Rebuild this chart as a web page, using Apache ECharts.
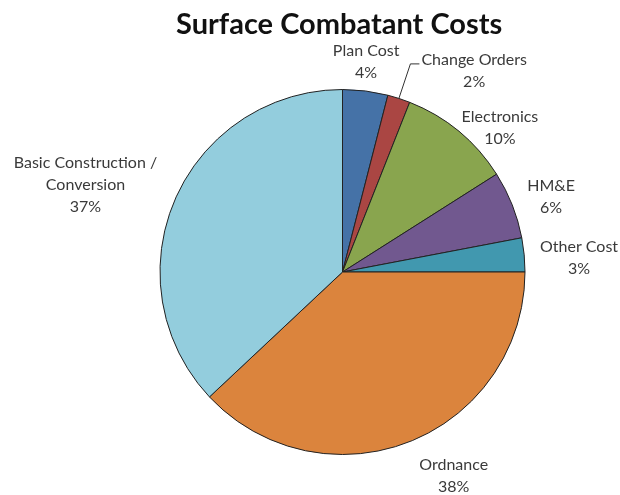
<!DOCTYPE html>
<html>
<head>
<meta charset="utf-8">
<script src="https://cdn.jsdelivr.net/npm/echarts@6/dist/echarts.min.js"></script>
<style>
  html, body { margin: 0; padding: 0; background: #fff; }
  #chart { width: 620px; height: 495px; }
</style>
</head>
<body>
<div id="chart"></div>
<script>
// Cost categories, clockwise from 12 o'clock
const categories = [
  'Plan Cost',
  'Change Orders',
  'Electronics',
  'HM&E',
  'Other Cost',
  'Ordnance',
  'Basic Construction /\nConversion'
];
// Share of total cost, percent
const shares = [4, 2, 10, 6, 3, 38, 37];

const sliceColors = ['#4572A7', '#AA4643', '#89A54E', '#71588F', '#4198AF', '#DB843D', '#93CDDD'];

// Pie geometry (px) and label placement tweaks
const CENTER = [342.5, 272];
const RADIUS = 182.5;
const LABEL_GAP = 30;
const labelNudge = [[-3, 1], [66, 1], [22, 20], [11, 3], [25, 6], [33, 6], [-62, -3]];
const FONT = 'Lato, "Open Sans", sans-serif';

const total = shares.reduce((a, b) => a + b, 0);
function midAngle(i) {
  let before = 0;
  for (let k = 0; k < i; k++) before += shares[k];
  return (before + shares[i] / 2) / total * 2 * Math.PI; // clockwise from top
}

const chart = echarts.init(document.getElementById('chart'), null, { renderer: 'canvas' });

chart.setOption({
  animation: false,
  backgroundColor: '#ffffff',
  title: {
    text: 'Surface Combatant Costs',
    left: 171,
    top: 5,
    textStyle: { fontFamily: FONT, fontWeight: 'bold', fontSize: 29, color: '#111' }
  },
  series: [{
    type: 'pie',
    center: CENTER,
    radius: RADIUS,
    startAngle: 90,
    clockwise: true,
    avoidLabelOverlap: false,
    itemStyle: { borderColor: '#222', borderWidth: 1 },
    label: {
      show: true,
      position: 'outside',
      fontFamily: FONT,
      fontSize: 16,
      lineHeight: 22,
      color: '#3a3a3a',
      align: 'center',
      formatter: p => p.name + '\n' + shares[p.dataIndex] + '%'
    },
    labelLine: { show: false, lineStyle: { color: '#333', width: 1 } },
    emphasis: { disabled: true },
    labelLayout: function (params) {
      const i = params.dataIndex;
      const a = midAngle(i);
      const dx = Math.sin(a), dy = -Math.cos(a);
      const x = CENTER[0] + dx * (RADIUS + LABEL_GAP) + labelNudge[i][0];
      const y = CENTER[1] + dy * (RADIUS + LABEL_GAP) + labelNudge[i][1];
      const out = { x: x, y: y, align: 'center', verticalAlign: 'middle' };
      if (i === 1) {
        const w = params.labelRect.width, h = params.labelRect.height;
        const edge = [CENTER[0] + dx * RADIUS, CENTER[1] + dy * RADIUS];
        const lineY = y - h / 2 + 15;
        out.labelLinePoints = [edge, [x - w / 2 - 11, lineY], [x - w / 2 - 2, lineY]];
      }
      return out;
    },
    data: categories.map((name, i) => ({
      name: name,
      value: shares[i],
      itemStyle: { color: sliceColors[i] },
      labelLine: { show: i === 1 }
    }))
  }]
});
</script>
</body>
</html>
